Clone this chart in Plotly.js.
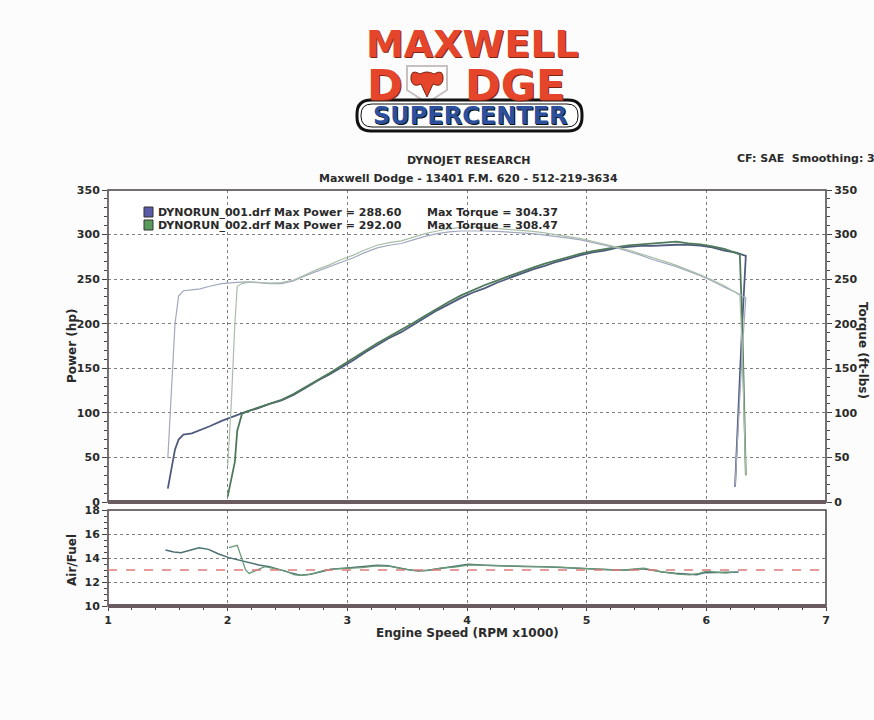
<!DOCTYPE html>
<html>
<head>
<meta charset="utf-8">
<script src="https://cdn.plot.ly/plotly-3.0.1.min.js"></script>
<style>
  html, body { margin: 0; padding: 0; background: #fcfcfc; }
  #dyno { width: 874px; height: 720px; }
</style>
</head>
<body>
<div id="dyno"></div>
<script>
// === Run data === //

// run 1 : DYNORUN_001.drf
var rpm1 = [1.50,1.53,1.56,1.59,1.63,1.70,1.77,1.85,1.95,
    2.05,2.15,2.25,2.35,2.45,2.55,2.65,2.75,2.85,2.95,
    3.05,3.15,3.25,3.35,3.45,3.55,3.65,3.75,3.85,3.95,
    4.05,4.15,4.25,4.35,4.45,4.55,4.65,4.75,4.85,4.95,
    5.05,5.15,5.25,5.35,5.45,5.55,5.65,5.75,5.85,5.95,
    6.05,6.15,6.25,6.33,6.30,6.27,6.24];
var power1 = [15,35,59,70,75.5,77,80.5,85,91,
    96,101,105,110,114,120,128,136,143,151,
    159,168,176,184,190.5,199,207,215,222,229,
    235,240,246,251,256,261,265,269.5,273,277,
    280,282,285,286,287.4,287.4,288.3,288.6,288.5,287.7,
    285.7,282,279.7,276,200,110,17];
var torque1 = [49,120,200,231,237,238,239,242,245,
    246,247,246,245,245,248,254,259,264,269,
    274,280,285,288,290,294,298,301,303,304,
    304.37,304,303.5,303,302,301,299.5,298,296,294,
    291,288,285,281,277,272,268,264,259,254,
    248,241,235,229,170,95,17];

// run 2 : DYNORUN_002.drf
var rpm2 = [2.00,2.03,2.06,2.08,2.12,2.18,
    2.25,2.35,2.45,2.55,2.65,2.75,2.85,2.95,3.05,3.15,
    3.25,3.35,3.45,3.55,3.65,3.75,3.85,3.95,4.05,4.15,
    4.25,4.35,4.45,4.55,4.65,4.75,4.85,4.95,5.05,5.15,
    5.25,5.35,5.45,5.55,5.65,5.75,5.85,5.95,6.05,6.15,
    6.22,6.28,6.30,6.32,6.33];
var power2 = [6,25,45,80,99,102.5,
    105.6,110,114.7,121,128.7,136.7,144.3,152.8,160.8,169.7,
    178.2,185.6,192.5,200.7,209,217,224.7,231.8,237.9,243.4,
    248.4,253.4,258.4,263,267.4,271.3,275.2,278.5,281.3,283.9,
    285.9,287.8,289,289.7,291.5,292,290.1,288.9,286.8,284,
    280.7,277.7,200,100,30];
var torque2 = [40,110,200,242,245,247,
    246.5,245.5,246,249,255,261,266,272,277,283,
    288,291,293,297,301,304,306.5,308,308.47,308,
    307,306,305,303.5,302,300,298,295.5,292.5,289.5,
    286,282.5,278.5,274,270,265.5,260.5,255,249,242.5,
    237,232,170,90,30];

// air / fuel
var afrRpm1 = [1.48,1.55,1.61,1.68,1.76,1.84,1.92,2.01,2.10,2.18,2.26,2.35,2.44,2.52,2.61,2.69,2.78,2.86,
    3.00,3.12,3.25,3.34,3.42,3.50,3.59,3.68,3.76,3.88,4.01,4.15,4.31,4.48,4.65,4.82,4.99,
    5.14,5.29,5.38,5.46,5.55,5.63,5.74,5.84,5.92,5.99,6.07,6.14,6.20,6.27];
var afr1 = [14.67,14.5,14.44,14.65,14.86,14.72,14.35,14.03,13.8,13.6,13.42,13.28,13.0,12.78,12.56,12.64,12.85,13.06,
    13.17,13.25,13.39,13.35,13.19,13.05,12.92,12.98,13.11,13.3,13.47,13.4,13.33,13.3,13.28,13.2,13.11,
    13.05,12.97,13.02,13.1,13.0,12.83,12.72,12.64,12.6,12.78,12.8,12.78,12.8,12.83];
var afrRpm2 = [2.01,2.05,2.08,2.11,2.15,2.18,2.24,2.31,2.40,2.48,2.56,2.62,2.70,2.80,2.90,3.00,3.12,3.25,3.36,
    3.45,3.55,3.65,3.78,3.90,4.02,4.16,4.30,4.48,4.65,4.82,5.00,5.15,5.30,5.40,5.48,5.56,5.66,
    5.76,5.86,5.94,6.00,6.08,6.16,6.22];
var afr2 = [14.86,15.0,15.06,14.2,13.0,12.72,13.0,13.28,13.1,12.92,12.6,12.55,12.66,12.95,13.1,13.12,13.2,13.35,13.3,
    13.12,12.97,12.95,13.15,13.25,13.42,13.38,13.35,13.28,13.25,13.22,13.12,13.05,12.98,13.1,13.15,12.95,12.8,
    12.65,12.6,12.72,12.9,12.85,12.75,12.8];
var afrTarget = 13.0;

var runNames = ['DYNORUN_001.drf', 'DYNORUN_002.drf'];
var maxPower = ['288.60', '292.00'];
var maxTorque = ['304.37', '308.47'];
var runColors = ['#5a5aa8', '#5a9a5a'];

// === Page geometry (pixels -> paper) === //
var plotL = 108, plotR = 826, plotT = 190, plotB = 606;
function px(x){ return (x - plotL) / (plotR - plotL); }
function py(y){ return (plotB - y) / (plotB - plotT); }

var fontFam = '"DejaVu Sans", Verdana, sans-serif';
var ink = '#2a2a2a';

// === Traces === //
var traces = [
    {x: rpm1, y: torque1, xaxis: 'x', yaxis: 'y3', mode: 'lines', line: {color: '#a2a9be', width: 1.2}},
    {x: rpm2, y: torque2, xaxis: 'x', yaxis: 'y3', mode: 'lines', line: {color: '#a9bea9', width: 1.2}},
    {x: rpm1, y: power1, xaxis: 'x', yaxis: 'y', mode: 'lines', line: {color: '#4f5b7e', width: 1.8}},
    {x: rpm2, y: power2, xaxis: 'x', yaxis: 'y', mode: 'lines', line: {color: '#4f7a5a', width: 1.8}},
    {x: afrRpm1, y: afr1, xaxis: 'x2', yaxis: 'y2', mode: 'lines', line: {color: '#4b6e72', width: 1.5}},
    {x: afrRpm2, y: afr2, xaxis: 'x2', yaxis: 'y2', mode: 'lines', line: {color: '#6a9a78', width: 1.3}}
];

var tickFont = {family: fontFam, size: 11, color: ink, weight: 'bold'};
var gridStyle = {showgrid: true, gridcolor: '#808080', griddash: 'dot', gridwidth: 1};

// === Annotations (titles, legend, logo text) === //
function label(text, x, y, opts){
    var a = Object.assign({
        text: text, xref: 'paper', yref: 'paper', x: px(x), y: py(y),
        showarrow: false, xanchor: 'center', yanchor: 'middle',
        font: {family: fontFam, size: 11, color: ink, weight: 'bold'}
    }, opts || {});
    return a;
}

var logoRed = {family: fontFam, size: 38, color: '#e5452b', weight: 'bold', shadow: '1px 1px 0px #7a2414'};
var logoRedBig = Object.assign({}, logoRed, {size: 43});

var annotations = [
    label('DYNOJET RESEARCH', 469, 160),
    label('Maxwell Dodge - 13401 F.M. 620 - 512-219-3634', 469, 178),
    label('CF: SAE&nbsp;&nbsp;Smoothing: 3', 735, 158, {xanchor: 'left'}),
    label('Power (hp)', 72, 346, {textangle: -90, font: {family: fontFam, size: 12, color: ink, weight: 'bold'}}),
    label('Torque (ft-lbs)', 863, 350, {textangle: 90, font: {family: fontFam, size: 12, color: ink, weight: 'bold'}}),
    label('Air/Fuel', 72, 560, {textangle: -90, font: {family: fontFam, size: 12, color: ink, weight: 'bold'}}),
    label('Engine Speed (RPM x1000)', 467, 633, {font: {family: fontFam, size: 12, color: ink, weight: 'bold'}}),
    // logo
    label('MAXWELL', 472, 44, {font: logoRed}),
    label('D', 385, 85, {font: logoRedBig}),
    label('DGE', 515, 85, {font: logoRedBig}),
    label('SUPERCENTER', 470, 116, {font: {family: fontFam, size: 24, color: '#2c4f9e', weight: 'bold', shadow: '1px 1px 0px #111'}})
];

// legend rows
var legendRows = [212, 225];
var shapes = [];
for(i=0;i<runNames.length;i++){
    annotations.push(label(runNames[i] + ' Max Power = ' + maxPower[i], 156, legendRows[i], {xanchor: 'left'}));
    annotations.push(label('Max Torque = ' + maxTorque[i], 425, legendRows[i], {xanchor: 'left'}));
    shapes.push({type: 'rect', xref: 'paper', yref: 'paper',
        x0: px(144), x1: px(153), y0: py(legendRows[i] - 5), y1: py(legendRows[i] + 5),
        fillcolor: runColors[i], line: {color: '#333', width: 1}});
}

// === Frames === //
shapes.push(
    {type: 'rect', xref: 'paper', yref: 'y domain', x0: 0, x1: 1, y0: 0, y1: 1, line: {color: '#4a4246', width: 1.5}},
    {type: 'line', xref: 'paper', yref: 'y domain', x0: 0, x1: 1, y0: 0, y1: 0, line: {color: '#6b5a5e', width: 4}},
    {type: 'rect', xref: 'paper', yref: 'y2 domain', x0: 0, x1: 1, y0: 0, y1: 1, line: {color: '#4a4246', width: 1.5}},
    {type: 'line', xref: 'paper', yref: 'y2 domain', x0: 0, x1: 1, y0: 0, y1: 0, line: {color: '#6b5a5e', width: 4}},
    // target air/fuel line
    {type: 'line', xref: 'paper', yref: 'y2', x0: 0, x1: 1, y0: afrTarget, y1: afrTarget,
        line: {color: '#e07a7a', width: 1.5, dash: 'dash'}}
);

// logo shapes
function roundRect(x0, y0, x1, y1, r){
    return 'M' + px(x0 + r) + ',' + py(y0) +
        ' L' + px(x1 - r) + ',' + py(y0) +
        ' Q' + px(x1) + ',' + py(y0) + ' ' + px(x1) + ',' + py(y0 + r) +
        ' L' + px(x1) + ',' + py(y1 - r) +
        ' Q' + px(x1) + ',' + py(y1) + ' ' + px(x1 - r) + ',' + py(y1) +
        ' L' + px(x0 + r) + ',' + py(y1) +
        ' Q' + px(x0) + ',' + py(y1) + ' ' + px(x0) + ',' + py(y1 - r) +
        ' L' + px(x0) + ',' + py(y0 + r) +
        ' Q' + px(x0) + ',' + py(y0) + ' ' + px(x0 + r) + ',' + py(y0) + ' Z';
}
function shield(){
    return 'M' + px(407) + ',' + py(66) + ' L' + px(447) + ',' + py(66) +
        ' L' + px(447) + ',' + py(90) + ' L' + px(427) + ',' + py(103) +
        ' L' + px(407) + ',' + py(90) + ' Z';
}
function ram(){
    // horns and face of the ram head
    return 'M' + px(420) + ',' + py(74) +
        ' Q' + px(410) + ',' + py(68) + ' ' + px(411) + ',' + py(80) +
        ' Q' + px(413) + ',' + py(88) + ' ' + px(421) + ',' + py(84) +
        ' L' + px(427) + ',' + py(97) +
        ' L' + px(433) + ',' + py(84) +
        ' Q' + px(441) + ',' + py(88) + ' ' + px(443) + ',' + py(80) +
        ' Q' + px(444) + ',' + py(68) + ' ' + px(434) + ',' + py(74) +
        ' Q' + px(427) + ',' + py(70) + ' ' + px(420) + ',' + py(74) + ' Z';
}
shapes.push(
    {type: 'path', xref: 'paper', yref: 'paper', path: shield(), fillcolor: '#ffffff', line: {color: '#c8c0c0', width: 2}},
    {type: 'path', xref: 'paper', yref: 'paper', path: ram(), fillcolor: '#e5452b', line: {color: '#7a2414', width: 1}},
    {type: 'path', xref: 'paper', yref: 'paper', path: roundRect(357, 100, 582, 131, 14), fillcolor: '#ffffff', line: {color: '#111', width: 3}},
    {type: 'path', xref: 'paper', yref: 'paper', path: roundRect(361, 104, 578, 127, 11), fillcolor: 'rgba(0,0,0,0)', line: {color: '#111', width: 1}}
);

// === Layout === //
var layout = {
    width: 874, height: 720,
    margin: {l: plotL, r: 874 - plotR, t: plotT, b: 720 - plotB},
    paper_bgcolor: '#fcfcfc',
    plot_bgcolor: '#ffffff',
    showlegend: false,
    font: {family: fontFam, color: ink},
    xaxis: Object.assign({
        anchor: 'y', range: [1, 7], dtick: 1, showticklabels: false,
        ticks: '', showline: false, zeroline: false
    }, gridStyle),
    xaxis2: Object.assign({
        anchor: 'y2', matches: 'x', range: [1, 7], dtick: 1, tickfont: tickFont,
        ticks: 'outside', ticklen: 4, tickcolor: '#444',
        minor: {ticks: 'outside', ticklen: 3, dtick: 0.2, tickcolor: '#444', showgrid: false},
        showline: false, zeroline: false
    }, gridStyle),
    yaxis: Object.assign({
        domain: [0.25, 1], range: [0, 350], dtick: 50, tickfont: tickFont,
        ticks: 'outside', ticklen: 5, tickcolor: '#444',
        minor: {ticks: 'outside', ticklen: 3, dtick: 10, tickcolor: '#444', showgrid: false},
        showline: false, zeroline: false
    }, gridStyle),
    yaxis3: {
        overlaying: 'y', side: 'right', anchor: 'x', range: [0, 350], dtick: 50, tickfont: tickFont,
        ticks: 'outside', ticklen: 5, tickcolor: '#444',
        minor: {ticks: 'outside', ticklen: 3, dtick: 10, tickcolor: '#444'},
        showgrid: false, zeroline: false, showline: false
    },
    yaxis2: Object.assign({
        domain: [0, 96 / 416], range: [10, 18], dtick: 2, tickfont: tickFont,
        ticks: 'outside', ticklen: 5, tickcolor: '#444',
        minor: {ticks: 'outside', ticklen: 3, dtick: 0.5, tickcolor: '#444', showgrid: false},
        showline: false, zeroline: false
    }, gridStyle),
    annotations: annotations,
    shapes: shapes
};

Plotly.newPlot('dyno', traces, layout, {staticPlot: true, displayModeBar: false});
</script>
</body>
</html>
